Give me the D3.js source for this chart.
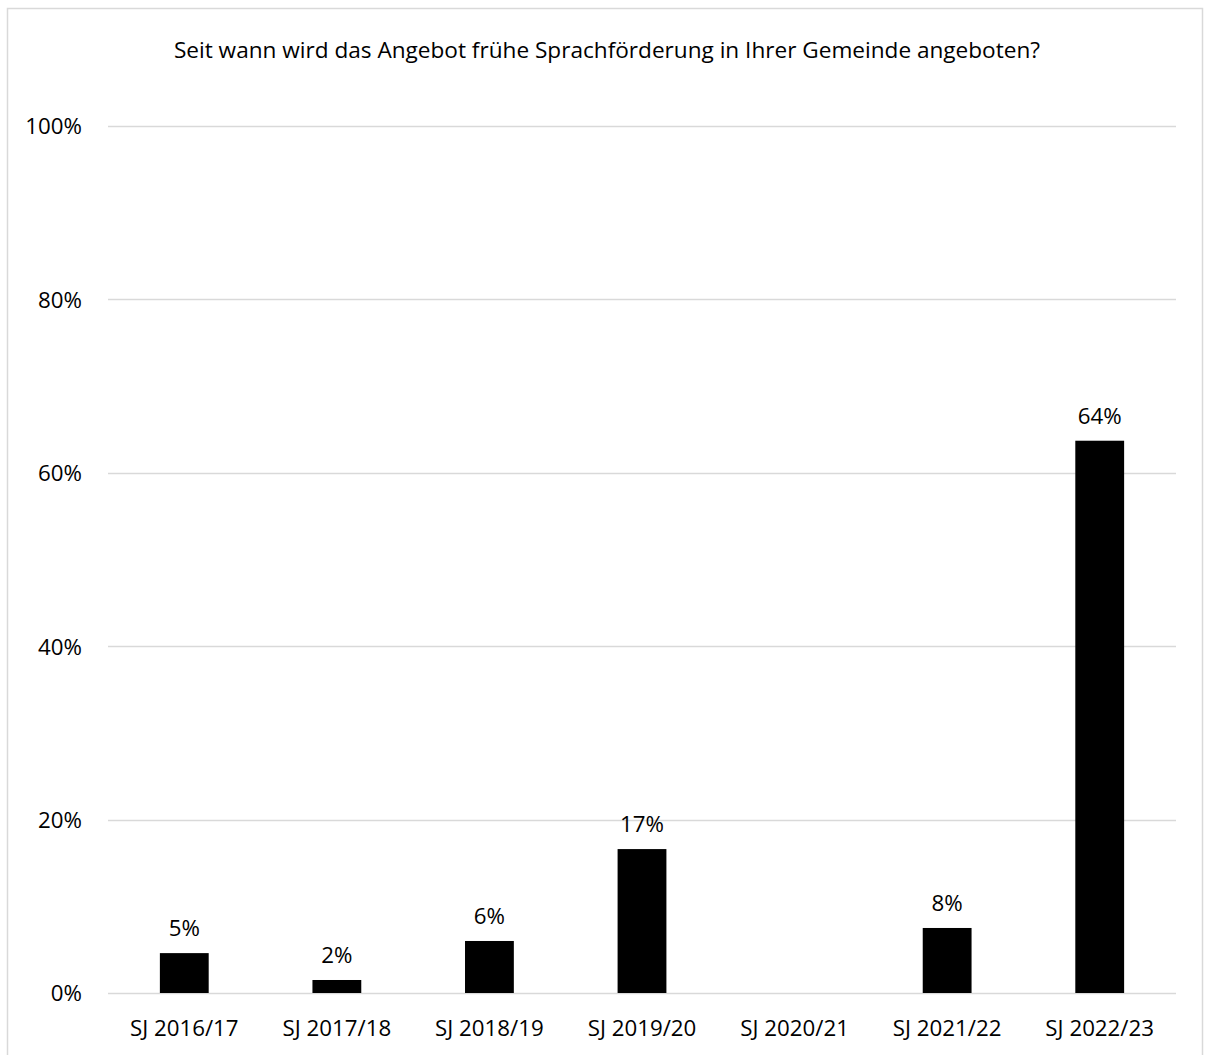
<!DOCTYPE html>
<html>
<head>
<meta charset="utf-8">
<script src="https://cdn.jsdelivr.net/npm/d3@7"></script>
<style>
html,body{margin:0;padding:0;background:#fff;}
svg text{font-family:"Open Sans","Noto Sans",sans-serif;fill:#000;}
</style>
</head>
<body>
<svg id="chart" width="1207" height="1055"></svg>
<script>
const title = "Seit wann wird das Angebot frühe Sprachförderung in Ihrer Gemeinde angeboten?";
const categories = ["SJ 2016/17","SJ 2017/18","SJ 2018/19","SJ 2019/20","SJ 2020/21","SJ 2021/22","SJ 2022/23"];
const values = [4.6, 1.5, 6.0, 16.6, 0, 7.5, 63.7];
const labels = ["5%","2%","6%","17%","","8%","64%"];
const yTicks = [0,20,40,60,80,100];

(function(){
const svg = d3.select("#chart");
const fs = "22.3px";

// chart border
svg.append("rect").attr("x",7.5).attr("y",8.5).attr("width",1195).attr("height",1100)
  .attr("fill","none").attr("stroke","#d9d9d9").attr("stroke-width",1.5);

const pLeft = 108, pRight = 1176, pTop = 126, pBottom = 993;
const x = d3.scaleBand().domain(categories).range([pLeft,pRight]).paddingInner(0.68).paddingOuter(0.34);
const y = d3.scaleLinear().domain([0,100]).range([pBottom,pTop]);

// title
svg.append("text").attr("x",607).attr("y",58).attr("text-anchor","middle")
  .style("font-size","22.6px").text(title);

// gridlines
svg.append("g").selectAll("line").data(yTicks).join("line")
  .attr("x1",pLeft).attr("x2",pRight)
  .attr("y1",d=>Math.round(y(d))+0.5).attr("y2",d=>Math.round(y(d))+0.5)
  .attr("stroke","#d9d9d9").attr("stroke-width",1.5);

// y axis labels
const yAxis = d3.axisLeft(y).tickValues(yTicks).tickFormat(d=>d+"%").tickSize(0).tickPadding(0);
const gy = svg.append("g").attr("transform","translate(82,0)").call(yAxis);
gy.select(".domain").remove();
gy.attr("font-family",null).attr("font-size",null);
gy.selectAll("text").style("font-size",fs).attr("dy","0.35em");

// bars
svg.append("g").selectAll("rect").data(values).join("rect")
  .attr("x",(d,i)=>x(categories[i]))
  .attr("width",x.bandwidth())
  .attr("y",d=>y(d))
  .attr("height",d=>pBottom - y(d))
  .attr("fill","#000");

// data labels
svg.append("g").selectAll("text").data(values).join("text")
  .attr("x",(d,i)=>x(categories[i])+x.bandwidth()/2)
  .attr("y",d=>y(d)-17)
  .attr("text-anchor","middle")
  .style("font-size",fs)
  .text((d,i)=>labels[i]);

// x axis labels
const xAxis = d3.axisBottom(x).tickSize(0).tickPadding(0);
const gx = svg.append("g").attr("transform","translate(0,1036)").call(xAxis);
gx.select(".domain").remove();
gx.attr("font-family",null).attr("font-size",null);
gx.selectAll("text").style("font-size",fs).attr("dy","0");
})();
</script>
</body>
</html>
